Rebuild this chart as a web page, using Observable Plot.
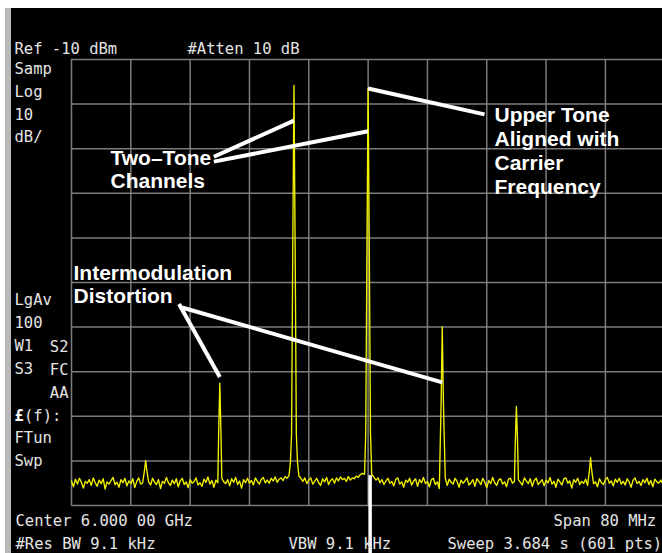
<!DOCTYPE html>
<html><head><meta charset="utf-8">
<script src="https://cdn.jsdelivr.net/npm/d3@7"></script>
<script src="https://cdn.jsdelivr.net/npm/@observablehq/plot@0.6"></script>
<style>
html,body{margin:0;padding:0;background:#fff;overflow:hidden}
#wrap{position:relative;width:662px;height:553px;background:#fff;overflow:hidden}
#bar{position:absolute;left:5px;top:8px;width:6px;height:545px;background:#b9b9b9}
#chart{position:absolute;left:11px;top:8px;width:651px;height:545px}
</style></head><body>
<div id="wrap"><div id="bar"></div><div id="chart"></div></div>
<script>
// ---- data (MHz, dBm) ----
const freqTicks = [5960, 5968, 5976, 5984, 5992, 6000, 6008, 6016, 6024, 6032];
const levelTicks = [-110, -100, -90, -80, -70, -60, -50, -40, -30, -20, -10];
const centerFreq = 6000;
const spikeFreq = [5970, 5980, 5990, 6000, 6010, 6020, 6030];
const spikePeak = [-99.9, -82.6, -15.8, -16.5, -69.9, -87.8, -99.3];
const spikeShoulder = [-102.2, -94.1, -52.2, -52.8, -87.4, -96.3, -102.2];
const spikeSkirt = [null, null, -93.9, -93.6, null, null, null];
const spikeBase = [null, null, -100.4, -103.0, null, null, null];
const noiseStart = 5960, noiseStep = 80 / 300;
const noise = [
-104.5,-105.8,-104.1,-105.2,-103.9,-104.8,-106.1,-104.6,-105.0,-104.2,-105.5,-103.8,-104.9,-105.7,-104.3,-105.1,-104.0,-106.3,-104.7,-105.2,
-104.4,-103.7,-105.3,-104.8,-105.9,-104.2,-104.9,-103.9,-105.6,-104.5,-105.1,-104.0,-106.0,-104.6,-103.8,-105.2,-104.9,-105.6,-104.1,-104.7,
-105.4,-103.9,-104.8,-105.3,-104.2,-106.2,-104.6,-105.0,-103.7,-104.9,-105.5,-104.3,-105.1,-104.0,-105.8,-104.5,-103.9,-105.3,-104.7,-106.0,
-104.2,-105.0,-104.6,-103.8,-105.4,-104.9,-105.7,-104.1,-104.8,-103.6,-105.2,-104.4,-105.9,-104.3,-104.9,-105.5,-103.9,-104.7,-105.1,-104.2,
-105.6,-104.0,-104.8,-103.7,-105.3,-104.5,-106.1,-104.2,-104.9,-103.9,-105.0,-104.4,-105.4,-103.8,-104.6,-105.2,-104.1,-103.7,-104.9,-104.3,
-105.0,-103.9,-104.5,-103.6,-104.8,-104.1,-103.8,-104.4,-103.5,-103.9,-103.3,-102.9,-102.6,-102.8,-103.0,-103.4,-103.9,-104.6,-103.8,-105.1,
-104.3,-103.8,-105.2,-104.6,-103.9,-104.9,-105.5,-104.0,-104.7,-103.7,-105.3,-104.4,-104.0,-105.0,-103.8,-104.5,-103.6,-104.2,-103.9,-104.6,
-103.5,-104.3,-103.8,-104.0,-103.4,-103.7,-103.1,-102.8,-102.5,-102.7,-102.6,-102.9,-103.2,-103.7,-104.3,-103.8,-104.9,-104.2,-105.3,-104.5,
-103.9,-105.0,-104.6,-105.6,-104.1,-103.8,-105.2,-104.7,-105.9,-104.3,-104.8,-103.9,-105.4,-104.5,-104.0,-105.7,-104.2,-104.9,-103.7,-105.1,
-104.6,-105.8,-104.2,-103.9,-105.3,-104.7,-106.2,-104.4,-104.9,-103.8,-105.5,-104.1,-104.8,-105.2,-103.9,-104.6,-105.9,-104.3,-105.0,-104.5,
-103.8,-105.4,-104.9,-104.2,-105.7,-104.0,-104.6,-105.3,-103.9,-104.8,-106.0,-104.4,-105.1,-103.7,-104.9,-105.5,-104.3,-104.0,-105.2,-104.7,
-105.8,-104.1,-103.9,-105.0,-104.6,-106.3,-104.2,-104.8,-105.4,-103.8,-104.5,-105.1,-104.0,-105.7,-104.4,-103.9,-105.3,-104.8,-104.2,-105.6,
-104.3,-104.9,-103.7,-105.2,-104.6,-105.9,-104.1,-104.7,-105.4,-104.0,-103.8,-105.0,-104.5,-106.1,-104.2,-104.8,-103.9,-105.3,-104.6,-105.0,
-104.1,-105.5,-104.4,-103.8,-105.1,-104.7,-105.8,-104.0,-104.9,-105.3,-104.2,-103.7,-105.0,-104.5,-105.6,-104.1,-104.8,-103.9,-105.2,-104.6,
-105.4,-104.0,-104.7,-105.9,-104.3,-103.8,-105.1,-104.6,-105.5,-104.2,-104.9,-103.9,-105.3,-104.4,-105.8,-104.1,-104.7,-105.0,-104.3,-105.2,
-104.6
];
const headerLeft = "Ref -10 dBm";
const headerMid = "#Atten 10 dB";
const sideTop = ["Samp", "Log", "10", "dB/"];
const sideLeft = ["LgAv", "100", "W1", "S3", "", "", "FTun", "Swp"];
const sideRight = ["S2", "FC", "AA"];
const phaseNoiseSymbol = "£";
const phaseNoiseRest = "(f):";
const footLeft = ["Center 6.000 00 GHz", "#Res BW 9.1 kHz"];
const footSpan = "Span 80 MHz";
const footVbw = "VBW 9.1 kHz";
const footSweep = "Sweep 3.684 s (601 pts)";
const noteTwoTone = ["Two–Tone", "Channels"];
const noteUpper = ["Upper Tone", "Aligned with", "Carrier", "Frequency"];
const noteIMD = ["Intermodulation", "Distortion"];

// ---- build trace ----
const binWidth = 0.16;
const spikes = spikeFreq.map((f, i) => ({f, peak: spikePeak[i], sh: spikeShoulder[i], sk: spikeSkirt[i], base: spikeBase[i]}));
const spikePts = [];
spikes.forEach(s => {
  const prof = s.sk != null ? [s.base, s.sk, s.sh, s.peak, s.sh, s.sk, s.base] : [s.sh, s.peak, s.sh];
  const h = (prof.length - 1) / 2;
  prof.forEach((v, k) => spikePts.push({f: s.f + (k - h) * binWidth, db: v}));
  s.half = (h + 0.5) * binWidth;
});
const noisePts = noise.map((v, i) => ({f: noiseStart + i * noiseStep, db: v}))
  .filter(p => spikes.every(s => Math.abs(p.f - s.f) > s.half));
const trace = [...noisePts, ...spikePts].sort((a, b) => a.f - b.f);

const links = [
  {x1: 5979.2, y1: -31.8, x2: spikeFreq[2], y2: -23.7},
  {x1: 5979.2, y1: -32.9, x2: spikeFreq[3], y2: -26.1},
  {x1: spikeFreq[3], y1: spikePeak[3], x2: 6015.7, y2: -22.3},
  {x1: 5974.5, y1: -64.8, x2: spikeFreq[1], y2: -81.2},
  {x1: 5974.9, y1: -65.6, x2: spikeFreq[4], y2: -82.4}
];

const mono = {fontFamily: "DejaVu Sans Mono", fontSize: 15.5, fill: "#e4e4e4", frameAnchor: "top-left",
  textAnchor: "start", lineAnchor: "bottom", text: d => d};
const bold = {fontFamily: "Liberation Sans, Arial, sans-serif", fontWeight: "bold", fontSize: 21, fill: "#ffffff",
  frameAnchor: "top-left", textAnchor: "start", lineAnchor: "bottom", text: d => d};
const grid = {stroke: "#7c7c7c", strokeWidth: 1.5};

const chart = Plot.plot({
  width: 651, height: 545,
  marginLeft: 60, marginRight: 0, marginTop: 51, marginBottom: 48,
  style: {background: "#000", overflow: "hidden"},
  x: {domain: [5960, 6039.7], axis: null},
  y: {domain: [-110, -10], axis: null},
  marks: [
    Plot.ruleX(freqTicks, grid),
    Plot.ruleY(levelTicks, grid),
    Plot.line(trace, {x: "f", y: "db", stroke: "#f2f200", strokeWidth: 1.35}),
    Plot.link(links, {x1: "x1", y1: "y1", x2: "x2", y2: "y2", stroke: "#fff", strokeWidth: 4}),
    Plot.ruleX([centerFreq], {y1: -103.3, y2: -125, stroke: "#fff", strokeWidth: 3.5, dx: 2}),
    Plot.text([headerLeft], {...mono, dx: -57, dy: -6}),
    Plot.text([headerMid], {...mono, dx: 116, dy: -6}),
    Plot.text([sideTop.join("\n")], {...mono, dx: -57, dy: 82.7, lineHeight: 22.6 / 15.5}),
    Plot.text([sideLeft.join("\n")], {...mono, dx: -57, dy: 406, lineHeight: 23 / 15.5}),
    Plot.text([sideRight.join("\n")], {...mono, textAnchor: "end", dx: -3, dy: 338, lineHeight: 23 / 15.5}),
    Plot.text([phaseNoiseSymbol], {...mono, fontWeight: "bold", fill: "#ffffff", dx: -57, dy: 361}),
    Plot.text([phaseNoiseRest], {...mono, dx: -47.5, dy: 361}),
    Plot.text([footLeft.join("\n")], {...mono, dx: -56, dy: 489, lineHeight: 23 / 15.5}),
    Plot.text([footSpan], {...mono, dx: 482, dy: 466}),
    Plot.text([footVbw], {...mono, dx: 217, dy: 489}),
    Plot.text([footSweep], {...mono, dx: 376, dy: 489}),
    Plot.text([noteTwoTone.join("\n")], {...bold, dx: 39, dy: 128, lineHeight: 23 / 21}),
    Plot.text([noteUpper.join("\n")], {...bold, dx: 423, dy: 134, lineHeight: 23.7 / 21}),
    Plot.text([noteIMD.join("\n")], {...bold, dx: 2, dy: 243.7, lineHeight: 23.4 / 21})
  ]
});
document.getElementById("chart").appendChild(chart);
</script></body></html>
